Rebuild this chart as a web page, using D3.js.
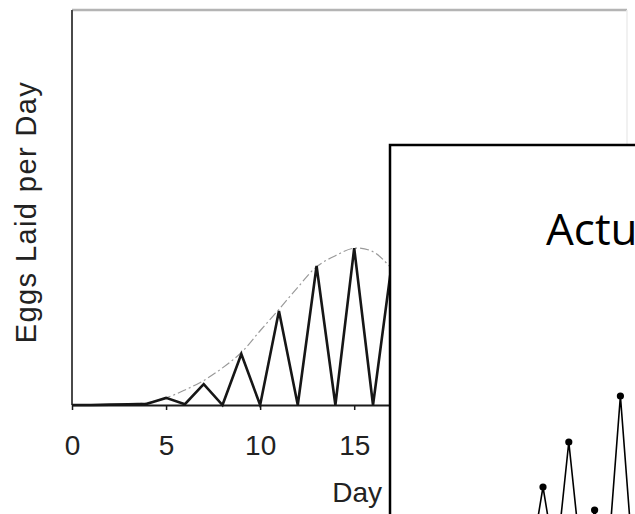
<!DOCTYPE html>
<html>
<head>
<meta charset="utf-8">
<script src="https://cdn.jsdelivr.net/npm/d3@7"></script>
<style>
  body { margin: 0; background: #fff; }
  text { font-family: "Liberation Sans", Arial, sans-serif; }
</style>
</head>
<body>
<div id="chart"></div>
<script>
"use strict";

// == data ==
var days       = [0, 1, 2, 3, 4, 5, 6, 7, 8, 9, 10, 11, 12, 13, 14, 15, 16, 17];
var eggsLaid   = [0, 0, 0.01, 0.02, 0.03, 0.18, 0.02, 0.53, 0, 1.29, 0, 2.38, 0, 3.52, 0, 3.97, 0, 3.6];

var envDays    = [3, 4, 5, 6, 7, 8, 9, 10, 11, 12, 13, 14, 15, 16, 17, 18];
var envelope   = [0.02, 0.06, 0.18, 0.38, 0.62, 0.94, 1.33, 1.88, 2.42, 2.98, 3.5, 3.78, 3.97, 3.88, 3.45, 2.9];

var xTicks     = [0, 5, 10, 15, 20, 25];

var actualDays = [9, 10, 11, 12, 13, 14, 15, 16, 17];
var actualEggs = [0, 3.9, 0, 6.15, 0, 2.75, 0, 8.45, 0];

var visualize = function() {
  var W = 635, H = 514;

  var svg = d3.select("#chart")
              .append("svg")
              .attr("width", W)
              .attr("height", H)
              .style("display", "block");

  // == scales for the main plot ==
  var x = d3.scaleLinear().domain([0, 29.5]).range([72, 627]);
  var y = d3.scaleLinear().domain([0, 10]).range([405, 10]);

  // == frame ==
  svg.append("line")
     .attr("x1", x(0)).attr("x2", x(29.5))
     .attr("y1", y(10)).attr("y2", y(10))
     .attr("stroke", "#b4b4b4")
     .attr("stroke-width", 2.5);

  svg.append("line")
     .attr("x1", x(29.5)).attr("x2", x(29.5))
     .attr("y1", y(10)).attr("y2", y(0))
     .attr("stroke", "#ececec")
     .attr("stroke-width", 1.5);

  svg.append("line")
     .attr("x1", x(0)).attr("x2", x(0))
     .attr("y1", y(10)).attr("y2", y(0))
     .attr("stroke", "#4a4a4a")
     .attr("stroke-width", 2);

  // == x axis ==
  var xAxis = d3.axisBottom(x)
                .tickValues(xTicks)
                .tickSizeInner(5)
                .tickSizeOuter(0)
                .tickPadding(8);

  var gx = svg.append("g")
              .attr("transform", "translate(0," + y(0) + ")")
              .call(xAxis);
  gx.select(".domain").attr("stroke", "#1a1a1a").attr("stroke-width", 2);
  gx.selectAll(".tick line").attr("stroke", "#1a1a1a").attr("stroke-width", 1.5);
  gx.selectAll(".tick text")
    .attr("font-size", 28)
    .attr("fill", "#222")
    .attr("dy", "0.71em")
    .attr("y", 30)
    .style("font-family", "'Liberation Sans', Arial, sans-serif");

  // == axis titles ==
  svg.append("text")
     .attr("x", 382)
     .attr("y", 502)
     .attr("text-anchor", "end")
     .attr("font-size", 28)
     .attr("fill", "#222")
     .text("Day");

  svg.append("text")
     .attr("transform", "translate(36,212) rotate(-90)")
     .attr("text-anchor", "middle")
     .attr("font-size", 29)
     .attr("letter-spacing", 1.4)
     .attr("fill", "#222")
     .text("Eggs Laid per Day");

  // == dash-dot envelope ==
  var envLine = d3.line()
                  .x(function (d, i) { return x(envDays[i]); })
                  .y(function (d) { return y(d); })
                  .curve(d3.curveCatmullRom);

  svg.append("path")
     .datum(envelope)
     .attr("d", envLine)
     .attr("fill", "none")
     .attr("stroke", "#9a9a9a")
     .attr("stroke-width", 1.2)
     .attr("stroke-dasharray", "9,3,2,3");

  // == daily eggs zigzag ==
  var eggLine = d3.line()
                  .x(function (d, i) { return x(days[i]); })
                  .y(function (d) { return y(d); });

  svg.append("path")
     .datum(eggsLaid)
     .attr("d", eggLine)
     .attr("fill", "none")
     .attr("stroke", "#161616")
     .attr("stroke-width", 2.6)
     .attr("stroke-linejoin", "miter");

  // == inset box ==
  var inset = svg.append("g");
  inset.append("rect")
       .attr("x", 390)
       .attr("y", 145)
       .attr("width", 300)
       .attr("height", 420)
       .attr("fill", "#fff")
       .attr("stroke", "#000")
       .attr("stroke-width", 2.5);

  inset.append("text")
       .attr("x", 546)
       .attr("y", 245)
       .attr("font-size", 44)
       .attr("fill", "#000")
       .style("font-family", "'Open Sans', 'Noto Sans', sans-serif")
       .text("Actual");

  var ix = d3.scaleLinear().domain([0, 20]).range([414, 672]);
  var iy = d3.scaleLinear().domain([0, 10]).range([565, 365]);

  var actualLine = d3.line()
                     .x(function (d, i) { return ix(actualDays[i]); })
                     .y(function (d) { return iy(d); });

  inset.append("path")
       .datum(actualEggs)
       .attr("d", actualLine)
       .attr("fill", "none")
       .attr("stroke", "#000")
       .attr("stroke-width", 1.6);

  inset.selectAll("circle")
       .data(actualEggs)
       .enter()
       .append("circle")
       .attr("cx", function (d, i) { return ix(actualDays[i]); })
       .attr("cy", function (d) { return iy(d); })
       .attr("r", 3.6)
       .attr("fill", "#000");
};

visualize();
</script>
</body>
</html>
